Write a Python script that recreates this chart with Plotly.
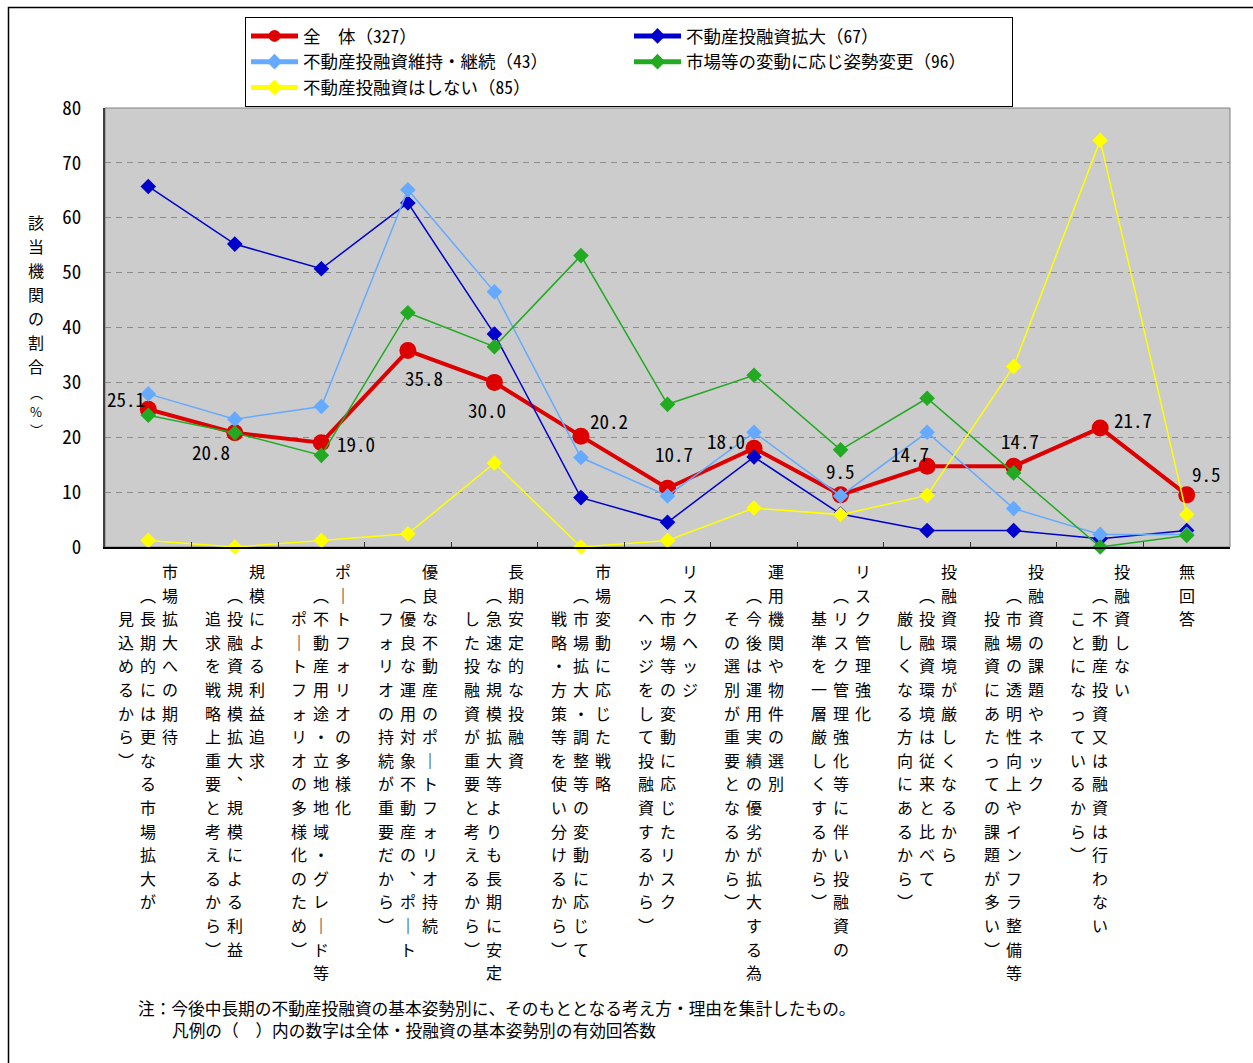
import plotly.graph_objects as go

# ---- data -------------------------------------------------------------
# category labels: columns of the vertical label are separated by "\n"
cat_labels = [
    "市場拡大への期待\n（長期的には更なる市場拡大が\n見込めるから）",
    "規模による利益追求\n（投融資規模拡大、規模による利益\n追求を戦略上重要と考えるから）",
    "ポートフォリオの多様化\n（不動産用途・立地地域・グレード等\nポートフォリオの多様化のため）",
    "優良な不動産のポートフォリオ持続\n（優良な運用対象不動産の、ポート\nフォリオの持続が重要だから）",
    "長期安定的な投融資\n（急速な規模拡大等よりも長期に安定\nした投融資が重要と考えるから）",
    "市場変動に応じた戦略\n（市場拡大・調整等の変動に応じて\n戦略・方策等を使い分けるから）",
    "リスクヘッジ\n（市場等の変動に応じたリスク\nヘッジをして投融資するから）",
    "運用機関や物件の選別\n（今後は運用実績の優劣が拡大する為\nその選別が重要となるから）",
    "リスク管理強化\n（リスク管理強化等に伴い投融資の\n基準を一層厳しくするから）",
    "投融資環境が厳しくなるから\n（投融資環境は従来と比べて\n厳しくなる方向にあるから）",
    "投融資の課題やネック\n（市場の透明性向上やインフラ整備等\n投融資にあたっての課題が多い）",
    "投融資しない\n（不動産投資又は融資は行わない\nことになっているから）",
    "無回答",
]
categories = [lbl.split("\n")[0] for lbl in cat_labels]

series_names = [
    "全　体（327）",
    "不動産投融資拡大（67）",
    "不動産投融資維持・継続（43）",
    "市場等の変動に応じ姿勢変更（96）",
    "不動産投融資はしない（85）",
]
total_all = [25.1, 20.8, 19.0, 35.8, 30.0, 20.2, 10.7, 18.0, 9.5, 14.7, 14.7, 21.7, 9.5]
expand = [65.7, 55.2, 50.7, 62.7, 38.8, 9.0, 4.5, 16.4, 6.0, 3.0, 3.0, 1.5, 3.0]
maintain = [27.9, 23.3, 25.6, 65.1, 46.5, 16.3, 9.3, 20.9, 9.3, 20.9, 7.0, 2.3, 2.3]
flexible = [24.0, 20.8, 16.7, 42.7, 36.5, 53.1, 26.0, 31.3, 17.7, 27.1, 13.5, 0.0, 2.1]
no_invest = [1.2, 0.0, 1.2, 2.4, 15.3, 0.0, 1.2, 7.1, 5.9, 9.4, 32.9, 74.1, 5.9]

y_title = "該当機関の割合"
y_unit = "（%）"
y_ticks = [0, 10, 20, 30, 40, 50, 60, 70, 80]
notes = [
    "注：今後中長期の不動産投融資の基本姿勢別に、そのもととなる考え方・理由を集計したもの。",
    "凡例の（　）内の数字は全体・投融資の基本姿勢別の有効回答数",
]

# ---- layout geometry ----------------------------------------------------
W, H = 1253, 1063
ML, MR, MT, MB = 105, 23, 108, 516
PW, PH = W - ML - MR, H - MT - MB
AXIS_Y = H - MB  # pixel row of the x axis


def px_x(px):
    return (px - ML) / PW


def px_y(py):
    return (AXIS_Y - py) / PH


MONO = "Noto Sans Mono CJK JP, Noto Sans CJK JP, monospace"
CJK = "Noto Sans CJK JP, Noto Sans CJK SC, sans-serif"

# glyph substitutions for vertical writing
VERT = {"（": "︵", "）": "︶", "、": "︑", "ー": "｜"}

fig = go.Figure()

styles = [
    dict(color="#DD0000", lw=4, symbol="circle", size=17),
    dict(color="#0000CC", lw=1.5, symbol="diamond", size=12),
    dict(color="#66AAFF", lw=1.5, symbol="diamond", size=12),
    dict(color="#22AA22", lw=1.5, symbol="diamond", size=12),
    dict(color="#FFFF00", lw=1.5, symbol="diamond", size=12),
]
all_series = [total_all, expand, maintain, flexible, no_invest]
for rank, (name, vals, st) in enumerate(zip(series_names, all_series, styles)):
    fig.add_trace(go.Scatter(
        x=categories, y=vals, name=name, mode="lines+markers",
        line=dict(color=st["color"], width=st["lw"]),
        marker=dict(color=st["color"], symbol=st["symbol"], size=st["size"], line=dict(width=0)),
        legendrank=rank + 1, cliponaxis=False,
    ))

annotations = []

# value labels of the overall series (offsets in px)
label_offsets = [(-22, 11), (-24, -19), (35, -1), (16, -27), (-7, -27), (28, 16), (6, 35),
                 (-28, 8), (0, 24), (-17, 13), (6, 26), (33, 8), (20, 21)]
for cat, v, (dx, dy) in zip(categories, total_all, label_offsets):
    annotations.append(dict(
        x=cat, y=v, xref="x", yref="y", text=f"{v:.1f}", showarrow=False,
        xshift=dx, yshift=dy, font=dict(family=MONO, size=19, color="#000000"),
    ))

# vertical category labels: one glyph per cell, columns read right to left,
# each following column starting one cell lower
COL_W, ROW_H, ROW1 = 22, 23.6, 571
for cat, lbl in zip(categories, cat_labels):
    cols = lbl.split("\n")
    n = len(cols)
    for k, col in enumerate(cols):
        for j, ch in enumerate(col):
            row = k + j
            annotations.append(dict(
                x=cat, y=0, xref="x", yref="paper", text=VERT.get(ch, ch), showarrow=False,
                xanchor="center", yanchor="middle",
                xshift=(n - 1) / 2 * COL_W - k * COL_W,
                yshift=-(ROW1 - AXIS_Y + row * ROW_H),
                font=dict(family=CJK, size=16, color="#000000"),
            ))

# y axis title, written vertically
for j, ch in enumerate(y_title):
    annotations.append(dict(
        x=px_x(36), y=px_y(222 + j * 24), xref="paper", yref="paper", text=ch,
        showarrow=False, xanchor="center", yanchor="middle",
        font=dict(family=CJK, size=16, color="#000000"),
    ))
for j, ch in enumerate(y_unit):
    annotations.append(dict(
        x=px_x(36), y=px_y(392 + j * 19), xref="paper", yref="paper", text=VERT.get(ch, ch),
        showarrow=False, xanchor="center", yanchor="middle",
        font=dict(family=CJK, size=13, color="#000000"),
    ))

# footnotes
annotations.append(dict(
    x=px_x(136), y=px_y(1008), xref="paper", yref="paper", text=notes[0],
    showarrow=False, xanchor="left", yanchor="middle",
    font=dict(family=MONO, size=16.7, color="#000000"),
))
annotations.append(dict(
    x=px_x(170), y=px_y(1030), xref="paper", yref="paper", text=notes[1],
    showarrow=False, xanchor="left", yanchor="middle",
    font=dict(family=MONO, size=16.7, color="#000000"),
))

shapes = [
    # plot-area frame (top/right in grey)
    dict(type="rect", xref="paper", yref="paper", x0=0, x1=1, y0=0, y1=1,
         line=dict(color="#808080", width=1), layer="below"),
    # outer frame of the sheet
    dict(type="path", xref="paper", yref="paper",
         path=f"M {px_x(8.5)},{px_y(H + 5)} L {px_x(8.5)},{px_y(7.5)} L {px_x(W + 5)},{px_y(7.5)}",
         line=dict(color="#000000", width=1.5)),
]

fig.update_layout(
    width=W, height=H,
    margin=dict(l=ML, r=MR, t=MT, b=MB),
    paper_bgcolor="#FFFFFF", plot_bgcolor="#CCCCCC",
    showlegend=True,
    legend=dict(
        orientation="h", x=px_x(245), y=px_y(17), xanchor="left", yanchor="top",
        bgcolor="#FFFFFF", bordercolor="#000000", borderwidth=1,
        font=dict(family=MONO, size=17.5, color="#000000"),
        entrywidth=321, entrywidthmode="pixels", itemsizing="constant",
        itemwidth=47, traceorder="normal", tracegroupgap=0,
    ),
    xaxis=dict(
        type="category", range=[-0.5, len(categories) - 0.5],
        showticklabels=False, showgrid=False, zeroline=False,
        ticks="inside", tickson="boundaries", ticklen=5, tickcolor="#333333",
        showline=True, linecolor="#000000", linewidth=2,
    ),
    yaxis=dict(
        range=[0, 80], tickvals=y_ticks, showgrid=True, gridcolor="#8C8C8C",
        griddash="6px,5px", gridwidth=1, zeroline=False,
        showline=True, linecolor="#404040", linewidth=2, ticks="",
        ticklabelstandoff=18,
        tickfont=dict(family=MONO, size=19, color="#000000"),
    ),
    annotations=annotations,
    shapes=shapes,
)

fig.write_html("out.html")
